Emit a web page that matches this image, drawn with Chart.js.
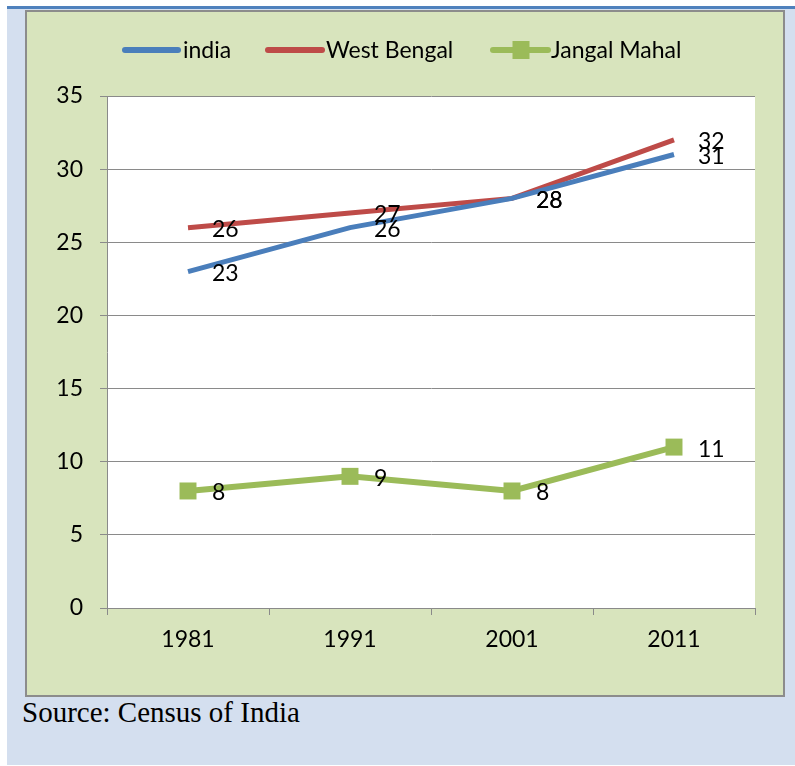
<!DOCTYPE html>
<html><head><meta charset="utf-8">
<script src="https://cdn.jsdelivr.net/npm/chart.js@4"></script>
<style>
html,body{margin:0;padding:0;background:#fff;width:795px;height:766px;overflow:hidden;position:relative;}
#outer{position:absolute;left:7px;top:6px;width:788px;height:759px;background:#d4dfef;}
#topline{position:absolute;left:7px;top:6px;width:788px;height:3px;background:#4f81bd;}
#panel{position:absolute;left:25px;top:10px;width:756px;height:683px;background:#d8e4bd;border:2px solid #8c8c8c;}
#src{position:absolute;left:22px;top:695px;font-family:"Liberation Serif","Times New Roman",serif;font-size:29px;color:#000;line-height:1.2;}
#c{position:absolute;left:0;top:0;}
</style></head>
<body>
<div id="outer"></div><div id="topline"></div><div id="panel"></div>
<div id="src">Source: Census of India</div>
<canvas id="c" width="795" height="766"></canvas>
<script>
const categories = ["1981","1991","2001","2011"];
const india = [23,26,28,31];
const westBengal = [26,27,28,32];
const jangalMahal = [8,9,8,11];
const seriesNames = ["india","West Bengal","Jangal Mahal"];
const yTicks = [0,5,10,15,20,25,30,35];

const FONT = "Lato, 'Open Sans', sans-serif";
const colors = ["#4a7ebb","#be4b48","#9bbb59"];

const plotBg = {
  id:'plotBg',
  beforeDraw(chart){
    const {ctx, chartArea:a} = chart;
    ctx.save();
    ctx.fillStyle = "#ffffff";
    ctx.fillRect(a.left, a.top, a.right-a.left, a.bottom-a.top);
    ctx.restore();
  }
};

const labelPlugin = {
  id:'labels',
  afterDatasetsDraw(chart){
    const ctx = chart.ctx;
    ctx.save();
    ctx.font = "23px " + FONT;
    ctx.fillStyle = "#000";
    ctx.textAlign = "left";
    ctx.textBaseline = "middle";
    chart.data.datasets.forEach((ds,i)=>{
      const meta = chart.getDatasetMeta(i);
      meta.data.forEach((pt,j)=>{
        ctx.fillText(String(ds.data[j]), pt.x + 24, pt.y + 2);
      });
    });
    ctx.restore();
  }
};

const legendPlugin = {
  id:'customLegend',
  afterDraw(chart){
    const ctx = chart.ctx;
    ctx.save();
    const y = 50;
    const items = [
      {x1:125,x2:178,tx:183},
      {x1:268,x2:322,tx:326},
      {x1:493,x2:548,tx:551}
    ];
    ctx.font = "23px " + FONT;
    ctx.textBaseline = "middle";
    ctx.fillStyle = "#000";
    chart.data.datasets.forEach((ds,i)=>{
      const it = items[i];
      ctx.strokeStyle = ds.borderColor;
      ctx.lineWidth = 6;
      ctx.lineCap = "round";
      ctx.beginPath(); ctx.moveTo(it.x1,y); ctx.lineTo(it.x2,y); ctx.stroke();
      if(i===2){
        ctx.fillStyle = ds.borderColor;
        ctx.fillRect((it.x1+it.x2)/2-8, y-9, 17, 18);
        ctx.fillStyle = "#000";
      }
      ctx.fillText(ds.label, it.tx, y+1);
    });
    ctx.restore();
  }
};

new Chart(document.getElementById('c'), {
  type:'line',
  data:{
    labels: categories,
    datasets:[
      {label:seriesNames[0], data:india, borderColor:colors[0], backgroundColor:colors[0], borderWidth:5, pointRadius:0, tension:0},
      {label:seriesNames[1], data:westBengal, borderColor:colors[1], backgroundColor:colors[1], borderWidth:5, pointRadius:0, tension:0},
      {label:seriesNames[2], data:jangalMahal, borderColor:colors[2], backgroundColor:colors[2], borderWidth:6, pointRadius:12, pointStyle:'rect', pointBorderWidth:0, tension:0}
    ]
  },
  options:{
    responsive:false,
    animation:false,
    layout:{padding:{left:47,right:40,top:96,bottom:108}},
    plugins:{legend:{display:false}, tooltip:{enabled:false}},
    scales:{
      x:{
        offset:true,
        grid:{offset:true, drawOnChartArea:false, drawTicks:true, tickLength:7, color:"#8a8a8a", tickColor:"#8a8a8a"},
        border:{color:"#8a8a8a", width:1},
        ticks:{color:"#000", font:{family:FONT, size:23}, padding:11},
        afterFit(s){ s.height = 50; }
      },
      y:{
        min:0, max:35,
        afterBuildTicks(s){ s.ticks = yTicks.map(v=>({value:v})); },
        grid:{color:"#8a8a8a", tickLength:7, tickColor:"#8a8a8a"},
        border:{color:"#8a8a8a", width:1},
        ticks:{color:"#000", font:{family:FONT, size:23}, padding:17},
        afterFit(s){ s.width = 60; }
      }
    }
  },
  plugins:[plotBg, labelPlugin, legendPlugin]
});
</script>
</body></html>
